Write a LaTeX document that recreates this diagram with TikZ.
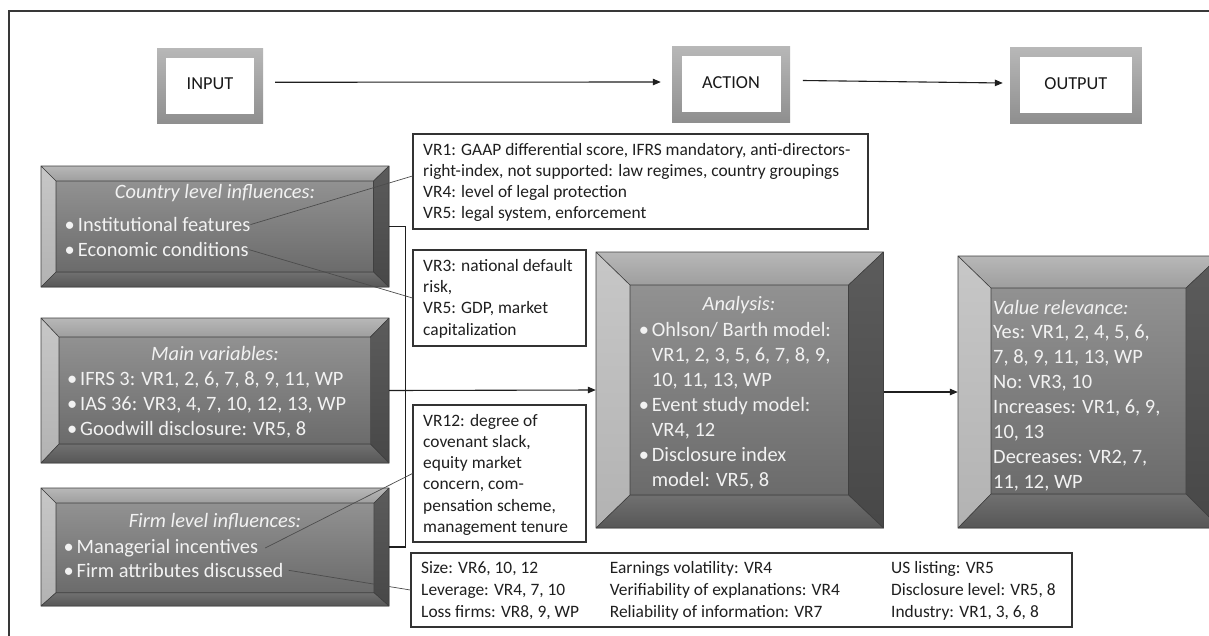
\documentclass[tikz,border=0pt]{standalone}
\usepackage{fontspec}
\setmainfont{Carlito}
\usetikzlibrary{arrows.meta,fit,calc}

\newcommand\mybul{\llap{\textbullet\hspace{3pt}}}
\newcommand\txtlines[6]{%
  \foreach \txtitem [count=\k] in {#6} {\node[#1] (#2\k) at (#3,{#4+(\k-1)*#5}) {\txtitem};}}
% #1 name, #2 x1, #3 y1, #4 x2, #5 y2, #6 left, #7 top, #8 right, #9 bottom bevel
\newcommand\bevelbox[9]{%
  \fill[top color=black!28, bottom color=black!38] (#2,#3) -- (#4,#3) -- ({#4-#8},{#3+#7}) -- ({#2+#6},{#3+#7}) -- cycle;
  \fill[top color=black!22, bottom color=black!30] (#2,#3) -- ({#2+#6},{#3+#7}) -- ({#2+#6},{#5-#9}) -- (#2,#5) -- cycle;
  \fill[top color=black!64, bottom color=black!72] (#4,#3) -- (#4,#5) -- ({#4-#8},{#5-#9}) -- ({#4-#8},{#3+#7}) -- cycle;
  \fill[top color=black!56, bottom color=black!66] (#2,#5) -- (#4,#5) -- ({#4-#8},{#5-#9}) -- ({#2+#6},{#5-#9}) -- cycle;
  \fill[top color=black!43, bottom color=black!58] ({#2+#6},{#3+#7}) rectangle ({#4-#8},{#5-#9});
  \draw[black!75, line width=0.6pt] (#2,#3) rectangle (#4,#5) ({#2+#6},{#3+#7}) rectangle ({#4-#8},{#5-#9})
    (#2,#3) -- ({#2+#6},{#3+#7}) (#4,#3) -- ({#4-#8},{#3+#7}) (#2,#5) -- ({#2+#6},{#5-#9}) (#4,#5) -- ({#4-#8},{#5-#9});
  \node[inner sep=0pt, fit={(#2,#3) (#4,#5)}] (#1) {};
}

\tikzset{
  btxt/.style={font=\fontsize{20.4}{25}\selectfont, text=white!95!black, inner sep=0pt, anchor=base west},
  btitle/.style={font=\fontsize{20.4}{25}\selectfont\itshape, text=white!95!black, inner sep=0pt, anchor=base},
  bvtitle/.style={btitle, anchor=base west},
  ntxt/.style={font=\fontsize{17.4}{21}\selectfont, text=black!88, inner sep=0pt, anchor=base west},
  notebox/.style={draw=black!80, line width=1.1pt, fill=white, inner sep=0pt},
  framebox/.style={inner sep=0pt, top color=black!28, bottom color=black!44},
  framein/.style={fill=white, inner sep=0pt},
  flabel/.style={font=\fontsize{18.3}{22}\selectfont, text=black!90, inner sep=0pt},
  arr/.style={-{Triangle[length=8pt,width=6.5pt]}, line width=1.1pt, draw=black!88},
  link/.style={line width=1.1pt, draw=black!88},
  call/.style={line width=0.7pt, draw=black!70},
}

\begin{document}
\begin{tikzpicture}[x=1pt,y=-1pt]
\useasboundingbox (0,0) rectangle (1209,635);
\clip (0,0) rectangle (1209,635);
\fill[white] (0,0) rectangle (1209,635);
\draw[black!78, line width=1.4pt] (1250,11) -- (9,11) -- (9,680);

% top row
\node[framebox, fit={(157,48) (263,123.5)}] (input) {};
\node[framein, fit={(166,58) (254,113.5)}] (inputin) {};
\node[flabel] (inputlbl) at ($(input.center)+(0,-2.5)$) {INPUT};
\node[framebox, fit={(672,46) (790,122)}] (action) {};
\node[framein, fit={(681.6,56) (780.5,112)}] (actionin) {};
\node[flabel] (actionlbl) at ($(action.center)+(0,-1)$) {ACTION};
\node[framebox, fit={(1010,47) (1141.8,123)}] (output) {};
\node[framein, fit={(1019.6,57) (1132,113)}] (outputin) {};
\node[flabel] (outputlbl) at ($(output.center)+(0,-1.5)$) {OUTPUT};

\draw[arr] ([xshift=12pt,yshift=3.5pt]input.east) -- ([xshift=-11pt,yshift=2pt]action.west);
\draw[arr] ([xshift=12.7pt,yshift=3.5pt]action.east) -- ([xshift=-7pt,yshift=2pt]output.west);

% bevel boxes
\bevelbox{country}{41}{166}{389}{287}{15}{15}{15.5}{15}
\bevelbox{main}{41}{318}{389}{463}{18}{19}{18.6}{19}
\bevelbox{firm}{41}{488}{389}{606}{15}{15}{15}{13.3}
\bevelbox{analysis}{596}{252}{883.5}{528}{34}{33}{35}{33}
\bevelbox{value}{958}{256}{1220}{528}{33}{32}{34}{34}

% note boxes
\node[notebox, fit={(413,134) (868,229)}] (vr1) {};
\node[notebox, fit={(413,250) (586,346)}] (vr3) {};
\node[notebox, fit={(413,405) (586,542)}] (vr12) {};
\node[notebox, fit={(411,553) (1072,627)}] (bot) {};

% box texts
\node[btitle] (ct) at (215,198.1) {Country level influences:};
\txtlines{btxt}{cl}{77.7}{231.6}{25}{{\mybul Institutional features},{\mybul Economic conditions}}

\node[btitle] (mt) at (215,360.6) {Main variables:};
\txtlines{btxt}{ml}{80}{385.6}{25}{{\mybul IFRS 3: VR1, 2, 6, 7, 8, 9, 11, WP},{\mybul IAS 36: VR3, 4, 7, 10, 12, 13, WP},{\mybul Goodwill disclosure: VR5, 8}}

\node[btitle] (ft) at (215,527.6) {Firm level influences:};
\txtlines{btxt}{fl}{76.5}{553.3}{24}{{\mybul Managerial incentives},{\mybul Firm attributes discussed}}

\node[btitle] (at) at (739,310.6) {Analysis:};
\txtlines{btxt}{al}{651.7}{336}{25}{{\mybul Ohlson/ Barth model:},{VR1, 2, 3, 5, 6, 7, 8, 9,},{10, 11, 13, WP},{\mybul Event study model:},{VR4, 12},{\mybul Disclosure index},{model: VR5, 8}}

\node[bvtitle] (vt) at (993,314) {Value relevance:};
\txtlines{btxt}{vl}{993}{338.6}{25}{{Yes: VR1, 2, 4, 5, 6,},{7, 8, 9, 11, 13, WP},{No: VR3, 10},{Increases: VR1, 6, 9,},{10, 13},{Decreases: VR2, 7,},{11, 12, WP}}

% note texts
\txtlines{ntxt}{na}{423}{155.6}{21.1}{{VR1: GAAP differential score, IFRS mandatory, anti-directors-},{right-index, not supported: law regimes, country groupings},{VR4: level of legal protection},{VR5: legal system, enforcement}}
\txtlines{ntxt}{nb}{423}{271.1}{21.3}{{VR3: national default},{risk,},{VR5: GDP, market},{capitalization}}
\txtlines{ntxt}{nc}{423}{426.3}{21.2}{{VR12: degree of},{covenant slack,},{equity market},{concern, com-},{pensation scheme,},{management tenure}}
\txtlines{ntxt}{nd}{421}{573.9}{21.7}{{Size: VR6, 10, 12},{Leverage: VR4, 7, 10},{Loss firms: VR8, 9, WP}}
\txtlines{ntxt}{ne}{609.7}{573.9}{21.7}{{Earnings volatility: VR4},{Verifiability of explanations: VR4},{Reliability of information: VR7}}
\txtlines{ntxt}{nf}{891}{573.9}{21.7}{{US listing: VR5},{Disclosure level: VR5, 8},{Industry: VR1, 3, 6, 8}}

% connectors
\draw[link] (country.east) -- ++(16,0) |- (firm.east);
\draw[arr] (main.east) -- (analysis.west);
\draw[arr] (analysis.east |- value.west) -- (value.west);

% callouts
\draw[call] (cl1.east) -- ([yshift=5.5pt]vr1.west);
\draw[call] (cl2.east) -- (vr3.west);
\draw[call] ([xshift=7pt]fl1.east) -- (vr12.west);
\draw[call] ([xshift=5pt]fl2.east) -- (bot.west);
\end{tikzpicture}
\end{document}
